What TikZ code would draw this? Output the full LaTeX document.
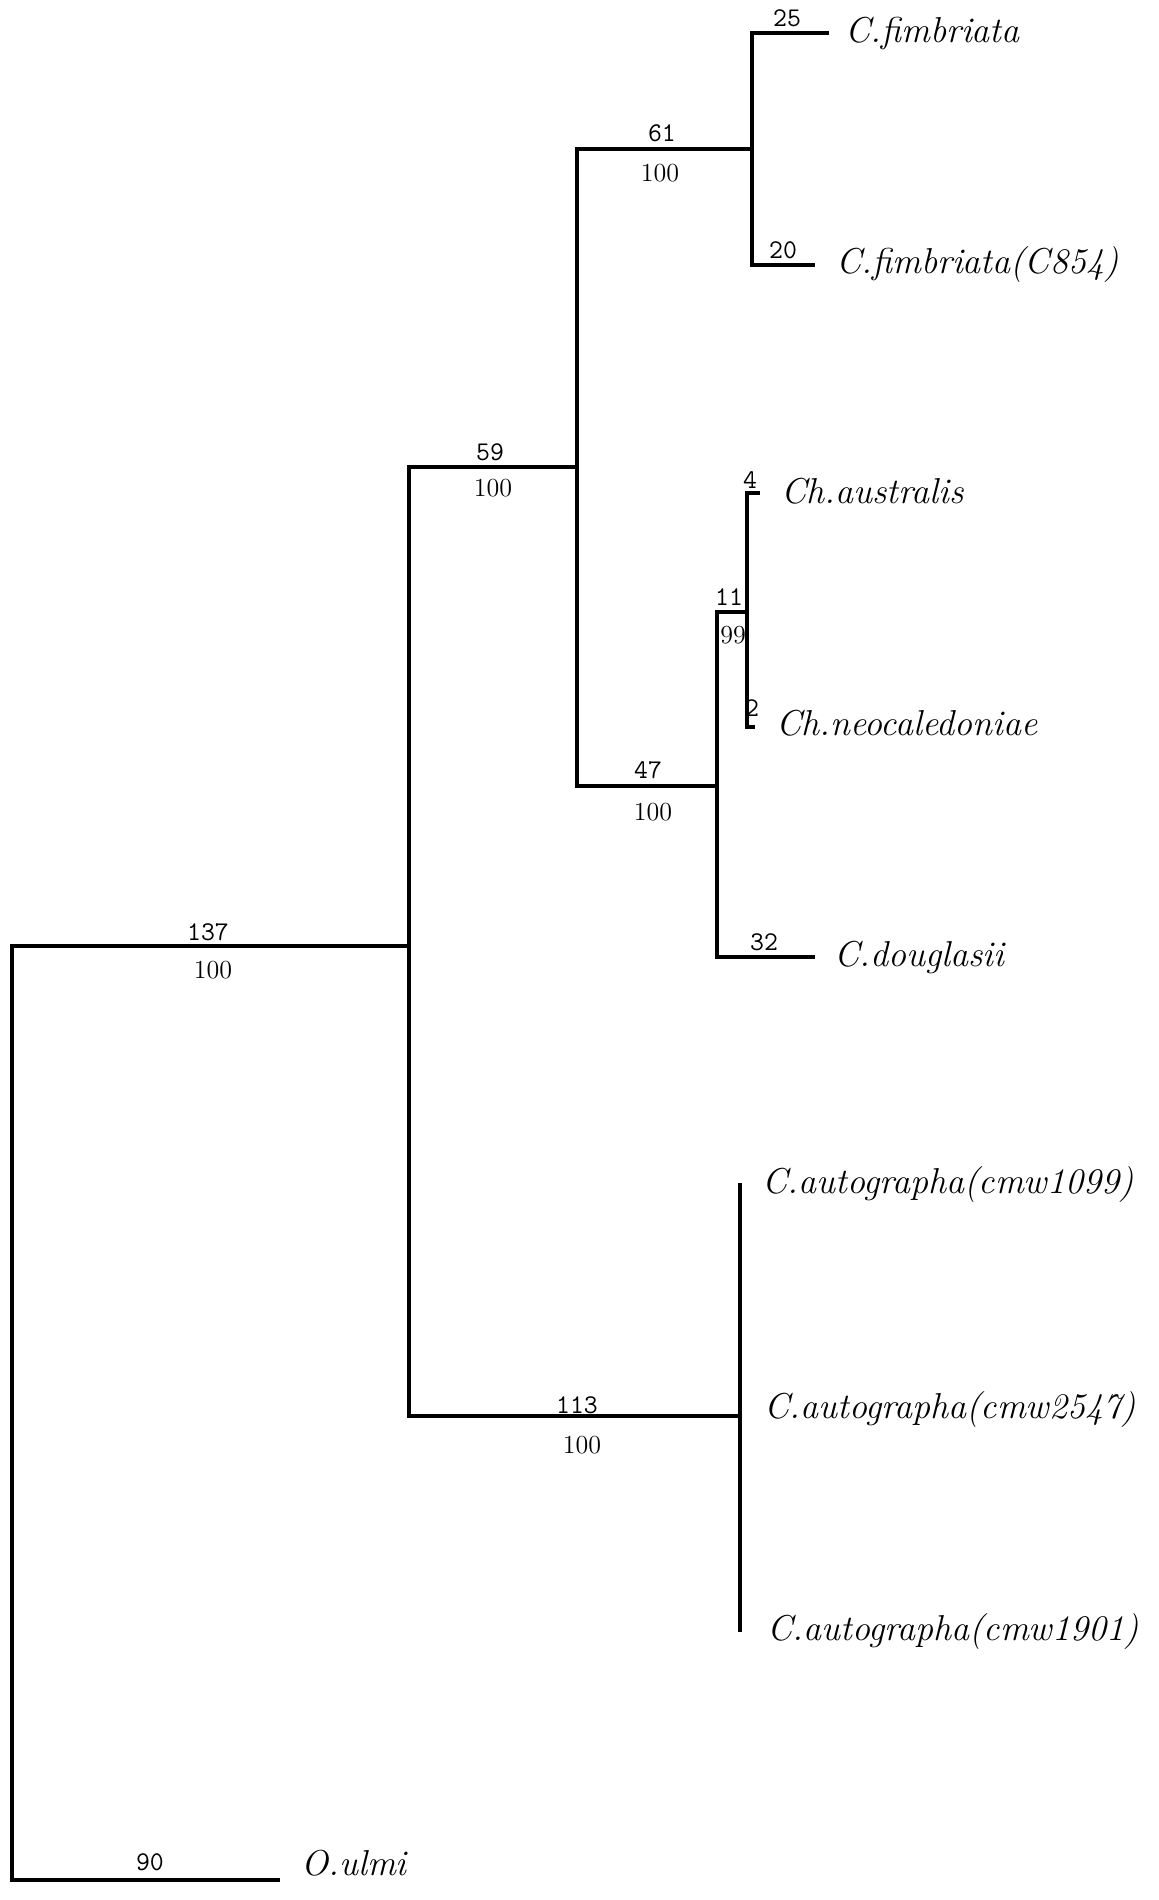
\documentclass[tikz,border=0pt]{standalone}
\usepackage{fontspec}
\tikzset{
  branch/.style={line width=1.6pt, line join=miter},
  taxon/.style={anchor=base west, inner sep=0pt, font=\fontsize{18}{21}\selectfont\itshape},
  blen/.style={inner sep=0pt, font=\fontsize{13.5}{15}\selectfont\ttfamily},
  boot/.style={inner sep=0pt, font=\fontsize{13}{15}\selectfont}
}
\begin{document}
\begin{tikzpicture}[x=0.5pt, y=-0.5pt]
\useasboundingbox (0,0) rectangle (1159,1900);
% internal nodes
\coordinate (r) at (12,946);
\coordinate (a) at (409,946);
\coordinate (b) at (577,467);
\coordinate (c) at (752,149);
\coordinate (d) at (717,786);
\coordinate (e) at (747,612);
\coordinate (f) at (740,1416);
% tips
\coordinate (t1) at (829,33);
\coordinate (t2) at (815,265);
\coordinate (t3) at (760,493);
\coordinate (t4) at (755,727);
\coordinate (t5) at (815,957);
\coordinate (t6) at (740,1183);
\coordinate (t8) at (740,1632);
\coordinate (t9) at (280,1880);
% branches
\draw[branch] (a) -- (r) |- (t9);
\draw[branch] (b) -| (a) |- (f);
\draw[branch] (c) -| (b) |- (d);
\draw[branch] (t1) -| (c) |- (t2);
\draw[branch] (e) -| (d) |- (t5);
\draw[branch] (t3) -| (e) |- (t4);
\draw[branch] (t6) -- (t8);
% taxa
\node[taxon] (L1) at (845,43) {C.fimbriata};
\node[taxon] (L2) at (836,273) {C.fimbriata(C854)};
\node[taxon] (L3) at (781,503) {Ch.australis};
\node[taxon] (L4) at (776,735) {Ch.neocaledoniae};
\node[taxon] (L5) at (834,966) {C.douglasii};
\node[taxon] (L6) at (762,1193) {C.autographa(cmw1099)};
\node[taxon] (L7) at (764,1418) {C.autographa(cmw2547)};
\node[taxon] (L8) at (767,1640) {C.autographa(cmw1901)};
\node[taxon] (L9) at (301,1875) {O.ulmi};
% branch lengths
\node[blen] (B25) at (787,18) {25};
\node[blen] (B20) at (783,250) {20};
\node[blen] (B61) at (662,133) {61};
\node[blen] (B59) at (490,452) {59};
\node[blen] (B4) at (750,480) {4};
\node[blen] (B11) at (729,597) {11};
\node[blen] (B2) at (752,708) {2};
\node[blen] (B47) at (648,770) {47};
\node[blen] (B32) at (764,942) {32};
\node[blen] (B137) at (208,932) {137};
\node[blen] (B113) at (577,1405) {113};
\node[blen] (B90) at (150,1862) {90};
% bootstrap
\node[boot] (S61) at (660,173) {100};
\node[boot] (S59) at (493,488) {100};
\node[boot] (S11) at (733,635) {99};
\node[boot] (S47) at (653,812) {100};
\node[boot] (S137) at (213,970) {100};
\node[boot] (S113) at (582,1445) {100};
\end{tikzpicture}
\end{document}
